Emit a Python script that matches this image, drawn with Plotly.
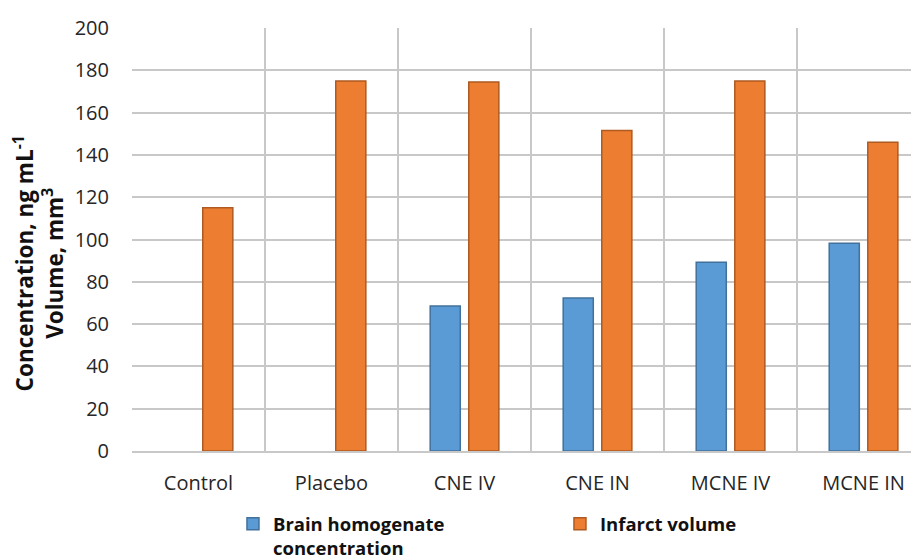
import plotly.graph_objects as go

categories = ["Control", "Placebo", "CNE IV", "CNE IN", "MCNE IV", "MCNE IN"]
brain_conc = [None, None, 68.5, 72.3, 89.3, 98.2]
infarct_vol = [115, 175, 174.5, 151.5, 175, 146]
y_ticks = [0, 20, 40, 60, 80, 100, 120, 140, 160, 180, 200]

fig = go.Figure()
fig.add_trace(go.Bar(
    x=categories, y=brain_conc,
    name="Brain homogenate<br>concentration",
    marker=dict(color="#5B9BD5", line=dict(color="#41719C", width=1.5)),
))
fig.add_trace(go.Bar(
    x=categories, y=infarct_vol,
    name="Infarct volume",
    marker=dict(color="#ED7D31", line=dict(color="#AE5A21", width=1.5)),
))

font_family = "Open Sans, Noto Sans, sans-serif"
fig.update_layout(
    width=919, height=558,
    margin=dict(l=124, r=0, t=20, b=115, autoexpand=False),
    plot_bgcolor="white", paper_bgcolor="white",
    barmode="group", bargap=0.42, bargroupgap=0.22,
    font=dict(family=font_family, color="#262626"),
    xaxis=dict(
        type="category", range=[-0.5, 5.477],
        tickson="boundaries", showgrid=True, gridcolor="#C8C8C8", gridwidth=1.5,
        showline=True, linecolor="#C8C8C8", linewidth=1.5,
        ticks="", ticklabelstandoff=13, tickfont=dict(size=20, color="#262626"),
    ),
    yaxis=dict(
        range=[0, 200], tickvals=y_ticks,
        showgrid=True, gridcolor="#C8C8C8", gridwidth=1.5,
        zeroline=False, ticks="", ticklabelstandoff=22,
        tickfont=dict(size=20, color="#262626"),
    ),
    legend=dict(
        orientation="h", x=0.127, y=-0.128, xanchor="left", yanchor="top",
        entrywidth=282, entrywidthmode="pixels", valign="top",
        font=dict(size=18.5, color="#111111", family=font_family, weight="bold"),
        itemwidth=30, tracegroupgap=0,
    ),
    annotations=[dict(
        text="Concentration, ng mL<sup>-1</sup><br>Volume, mm<sup>3</sup>",
        xref="paper", yref="paper", x=-0.118, y=0.444,
        xanchor="center", yanchor="middle", textangle=-90, showarrow=False,
        font=dict(size=22.5, color="#111111", family=font_family, weight="bold"),
    )],
)

fig.write_html("out.html")
